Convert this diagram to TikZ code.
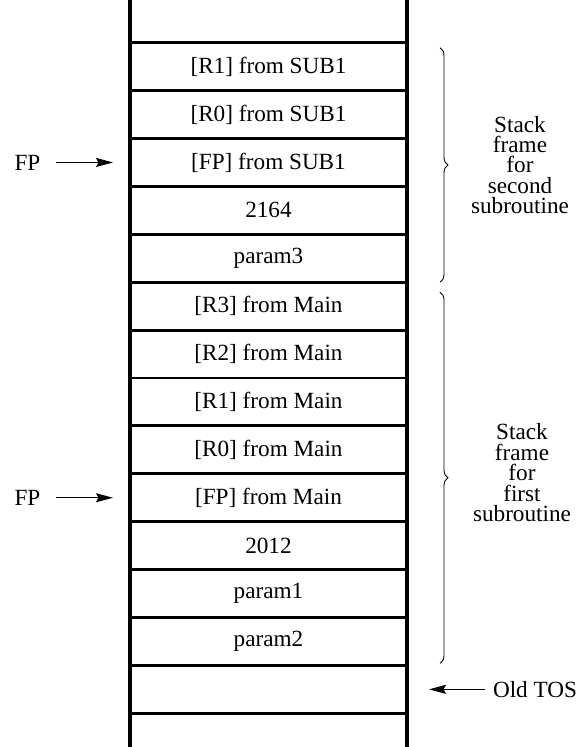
\documentclass[tikz,border=0pt]{standalone}
\usepackage{fontspec}
\setmainfont{Liberation Serif}
\usetikzlibrary{arrows.meta,decorations.pathreplacing}

\begin{document}
\begin{tikzpicture}[font=\fontsize{13.2}{11.6}\selectfont,
		cell/.style={draw, line width=1.7pt, minimum width=5.54cm, minimum height=0.958cm, inner sep=0pt, outer sep=0pt},
		pointer/.style={-{Stealth[length=3.4mm, width=1.8mm, inset=0.5mm]}, line width=0.7pt},
		framebrace/.style={decorate, decoration={brace, amplitude=0.16cm}, line width=0.5pt},
		frametext/.style={align=center}]

				\useasboundingbox (0,0) rectangle (11.58,14.94);

				% stack words, top to bottom
				\node[cell] (r1sub) at (5.37,13.607) {[R1] from SUB1};
				\node[cell] (r0sub) at (5.37,12.649) {[R0] from SUB1};
				\node[cell] (fpsub) at (5.37,11.691) {[FP] from SUB1};
				\node[cell] (ret2) at (5.37,10.733) {2164};
				\node[cell] (param3) at (5.37,9.775) {param3};
				\node[cell] (r3main) at (5.37,8.817) {[R3] from Main};
				\node[cell] (r2main) at (5.37,7.859) {[R2] from Main};
				\node[cell] (r1main) at (5.37,6.901) {[R1] from Main};
				\node[cell] (r0main) at (5.37,5.943) {[R0] from Main};
				\node[cell] (fpmain) at (5.37,4.985) {[FP] from Main};
				\node[cell] (ret1) at (5.37,4.027) {2012};
				\node[cell] (param1) at (5.37,3.069) {param1};
				\node[cell] (param2) at (5.37,2.111) {param2};
				\node[cell] (blank) at (5.37,1.153) {};

				\draw[line width=2.3pt] (2.6,0) -- (2.6,14.94);
				\draw[line width=2.3pt] (8.14,0) -- (8.14,14.94);

				\node (fp2) at (0.55,11.691) {FP};
				\draw[pointer, shorten <=0.19cm, shorten >=0.34cm] (fp2) -- (fpsub);
				\node (fp1) at (0.55,4.985) {FP};
				\draw[pointer, shorten <=0.19cm, shorten >=0.34cm] (fp1) -- (fpmain);

				\node (oldtos) at (10.7,1.153) {Old TOS};
				\draw[pointer, shorten <=0.03cm, shorten >=0.44cm] (oldtos) -- (blank);

				\draw[framebrace] ([xshift=0.66cm, yshift=-0.1cm]r1sub.north east) -- ([xshift=0.66cm]param3.south east)
					node[frametext, midway, xshift=1.6cm] {Stack\\frame\\for\\second\\subroutine};
				\draw[framebrace] ([xshift=0.66cm, yshift=-0.2cm]r3main.north east) -- ([xshift=0.66cm, yshift=0.04cm]param2.south east)
					node[frametext, midway, xshift=1.64cm, yshift=0.1cm] {Stack\\frame\\for\\first\\subroutine};
			\end{tikzpicture}
\end{document}
